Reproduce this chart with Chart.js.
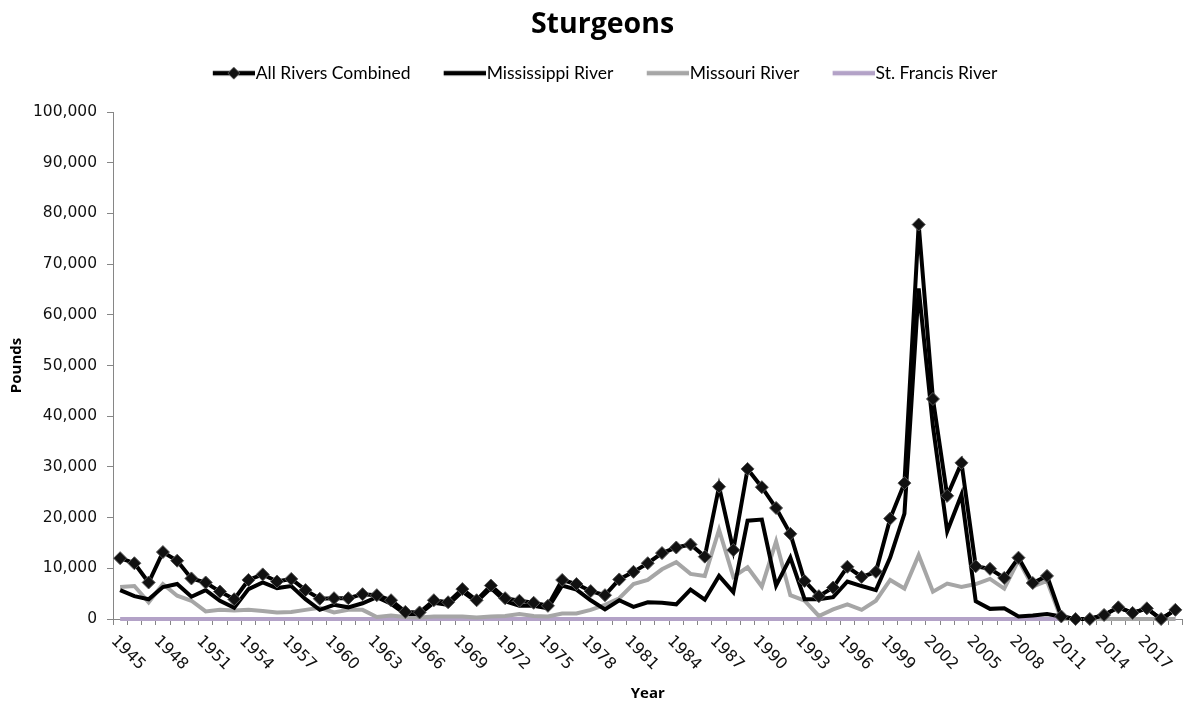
<!DOCTYPE html>
<html><head><meta charset="utf-8">
<script src="https://cdn.jsdelivr.net/npm/chart.js@4.4.1/dist/chart.umd.min.js"></script>
<style>html,body{margin:0;padding:0;background:#fff;} #wrap{width:1190px;height:702px;position:relative;}</style>
</head><body><div id="wrap"><canvas id="c" width="1190" height="702"></canvas></div>
<script>
const years = [1945,1946,1947,1948,1949,1950,1951,1952,1953,1954,1955,1956,1957,1958,1959,1960,1961,1962,1963,1964,1965,1966,1967,1968,1969,1970,1971,1972,1973,1974,1975,1976,1977,1978,1979,1980,1981,1982,1983,1984,1985,1986,1987,1988,1989,1990,1991,1992,1993,1994,1995,1996,1997,1998,1999,2000,2001,2002,2003,2004,2005,2006,2007,2008,2009,2010,2011,2012,2013,2014,2015,2016,2017,2018,2019];
const allRivers = [12000,11000,7200,13200,11500,8000,7200,5400,3900,7700,8800,7400,7900,5700,4000,4100,4100,4900,4700,3700,1400,1300,3700,3300,5900,3700,6600,4100,3600,3200,2600,7700,6900,5500,4700,7800,9300,11000,13000,14100,14700,12300,26100,13600,29600,26000,21900,16800,7500,4500,6200,10300,8300,9300,19800,26800,77800,43400,24300,30800,10400,9900,8100,12100,7100,8500,500,0,0,800,2300,1200,2100,0,1800];
const mississippi = [5700,4500,3900,6300,6900,4400,5700,3600,2200,5900,7200,6100,6500,3900,1800,2800,2300,3100,4300,3000,1000,1000,3200,2800,5400,3400,6100,3500,2600,2600,2100,6600,5800,3700,1900,3700,2400,3300,3200,2900,5800,3800,8500,5300,19400,19600,6600,12100,3900,3900,4300,7400,6500,5700,12100,20800,65200,38000,17300,24500,3500,2000,2100,500,700,1000,500,0,0,800,2300,1200,2100,0,1800];
const missouri = [6300,6500,3300,6900,4600,3600,1500,1800,1700,1800,1600,1300,1400,1800,2200,1300,1800,1800,400,700,400,300,500,500,500,300,500,600,1000,600,500,1100,1100,1800,2800,4100,6900,7700,9800,11200,8900,8500,17600,8300,10200,6400,15300,4700,3600,600,1900,2900,1800,3600,7700,6000,12600,5400,7000,6300,6900,7900,6000,11600,6400,7500,0,0,0,0,0,0,0,0,0];
const stFrancis = [0,0,0,0,0,0,0,0,0,0,0,0,0,0,0,0,0,0,0,0,0,0,0,0,0,0,0,0,0,0,0,0,0,0,0,0,0,0,0,0,0,0,0,0,0,0,0,0,0,0,0,0,0,0,0,0,0,0,0,0,0,0,0,0,0,0,0,0,0,0,0,0,0,0,0];
const seriesNames = ['All Rivers Combined','Mississippi River','Missouri River','St. Francis River'];
const seriesColors = ['#000000','#000000','#a6a6a6','#b3a2c7'];
const yMin = 0, yMax = 100000, yStep = 10000;
const xLabelStep = 3;
const chartTitle = 'Sturgeons', xTitle = 'Year', yTitle = 'Pounds';

const FONT = 'Lato';
const TITLEFONT = 'Open Sans';
const TICKFONT = 'DejaVu Sans';
const LEG_SIZE = 17.5;
const ICON_W = 73;

function makeIcon(color, diamond){
  const c = document.createElement('canvas'); c.width = ICON_W; c.height = 14;
  const g = c.getContext('2d');
  g.strokeStyle = color; g.lineWidth = 4.5;
  g.beginPath(); g.moveTo(ICON_W-42, 7); g.lineTo(ICON_W, 7); g.stroke();
  if (diamond){
    const cx = ICON_W-21, cy = 7, r = 6;
    g.fillStyle = '#111'; g.strokeStyle = '#555'; g.lineWidth = 1;
    g.beginPath(); g.moveTo(cx, cy-r); g.lineTo(cx+r, cy); g.lineTo(cx, cy+r); g.lineTo(cx-r, cy); g.closePath(); g.fill(); g.stroke();
  }
  return c;
}
const icons = seriesColors.map((c,i)=>makeIcon(c, i===0));

const xLabelPlugin = {
  id:'xlabels',
  afterDraw(chart){
    const xs = chart.scales.x, ctx = chart.ctx;
    ctx.save();
    ctx.font = '16px "' + TICKFONT + '"';
    ctx.fillStyle = '#111'; ctx.textAlign = 'left'; ctx.textBaseline = 'top';
    years.forEach((y,i)=>{
      if ((y - years[0]) % xLabelStep) return;
      const px = xs.getPixelForValue(i);
      ctx.save(); ctx.translate(px - 1, xs.top + 14); ctx.rotate(Math.PI/4);
      ctx.fillText(String(y), 0, 0); ctx.restore();
    });
    ctx.restore();
  }
};
const LEGEND_EXTRA = 20.1;
const TITLE_SHIFT = 18;
const layoutFix = {
  id:'layoutFix',
  beforeLayout(chart){
    const lg = chart.legend;
    if (lg && !lg._patched){
      const f = lg.fit;
      lg.fit = function(){ f.call(this); this.height += LEGEND_EXTRA; };
      lg._patched = true;
    }
  },
  afterLayout(chart){
    if (chart.titleBlock) { chart.titleBlock.left += TITLE_SHIFT; }
  }
};

const datasets = [allRivers, mississippi, missouri, stFrancis].map((d,i)=>({
  label: seriesNames[i], data: d, borderColor: seriesColors[i], backgroundColor: seriesColors[i],
  borderWidth: 4, tension: 0, clip: false,
  pointStyle: i===0 ? 'rectRot' : 'circle',
  pointRadius: i===0 ? 6.5 : 0, pointHoverRadius: i===0 ? 6.5 : 0,
  pointBackgroundColor: '#111', pointBorderColor: '#555', pointBorderWidth: 1
}));

new Chart(document.getElementById('c'), {
  type:'line',
  data:{ labels: years.map(String), datasets },
  options:{
    responsive:false, animation:false, devicePixelRatio:1,
    layout:{ padding:{ left:0, right:3, top:0, bottom:0 } },
    plugins:{
      title:{ display:true, text: chartTitle, color:'#000', font:{ family: TITLEFONT, size:28.5, weight:'bold' }, padding:{ top:8, bottom:12.2 } },
      legend:{ display:true, position:'top',
        labels:{ usePointStyle:true, pointStyleWidth: 57.5, boxHeight: LEG_SIZE, padding:10, color:'#000',
          font:{ family: FONT, size: LEG_SIZE },
          generateLabels(chart){ return seriesNames.map((n,i)=>({ text:n, pointStyle: icons[i], fillStyle:'rgba(0,0,0,0)', strokeStyle:'rgba(0,0,0,0)', lineWidth:0, hidden:false, datasetIndex:i, fontColor:'#000' })); }
        }
      },
      tooltip:{ enabled:false }
    },
    scales:{
      x:{ type:'category', offset:true,
        grid:{ display:true, drawOnChartArea:false, drawTicks:true, tickLength:6, color:'#868686', offset:true },
        border:{ display:true, color:'#868686', width:1 },
        ticks:{ display:false },
        title:{ display:true, text:xTitle, color:'#000', font:{ family: TITLEFONT, size:15, weight:'bold' }, padding:{ top:0, bottom:-1 } },
        afterFit(s){ s.height = 83; }
      },
      y:{ min:yMin, max:yMax,
        grid:{ display:true, drawOnChartArea:false, drawTicks:true, tickLength:6, color:'#868686' },
        border:{ display:true, color:'#868686', width:1 },
        ticks:{ stepSize:yStep, padding:10, color:'#111', font:{ family: TICKFONT, size:15.5 }, callback:(v)=>Number(v).toLocaleString('en-US') },
        title:{ display:true, text:yTitle, color:'#000', font:{ family: TITLEFONT, size:15, weight:'bold' }, padding:{ top:8, bottom:0 } },
        afterFit(s){ s.width = 113; }
      }
    }
  },
  plugins:[xLabelPlugin, layoutFix]
});
</script></body></html>
